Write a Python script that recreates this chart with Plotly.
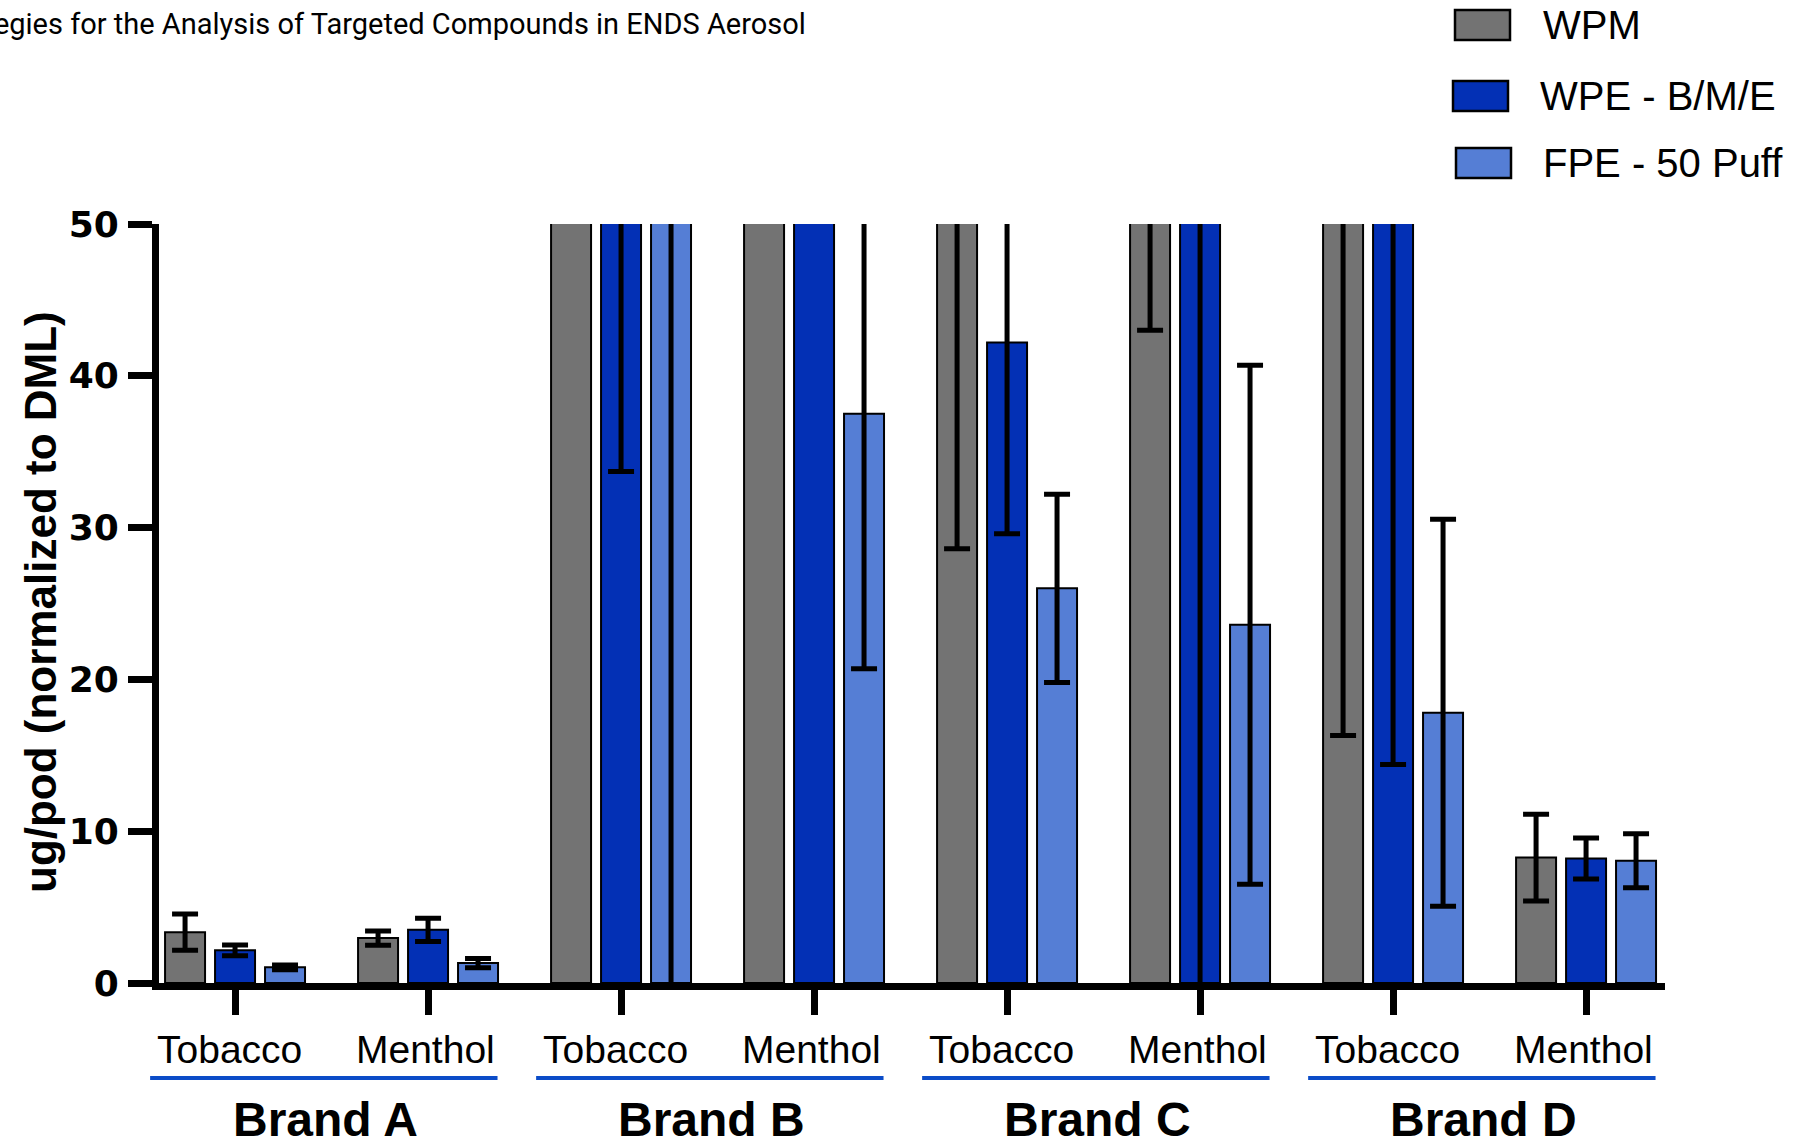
import plotly.graph_objects as go

# ---------------- data ----------------
flavors = ["Tobacco", "Menthol", "Tobacco", "Menthol", "Tobacco", "Menthol", "Tobacco", "Menthol"]
brands = ["Brand A", "Brand B", "Brand C", "Brand D"]
series_names = ["WPM", "WPE - B/M/E", "FPE - 50 Puff"]

wpm = [3.35, 2.96, 150, 130, 58, 62, 55, 8.26]
wpm_err = [1.2, 0.47, 40, 30, 29.4, 19, 38.7, 2.85]
wpe = [2.15, 3.5, 75, 120, 42.2, 70, 60, 8.2]
wpe_err = [0.35, 0.77, 41.3, 40, 12.6, 75, 45.6, 1.35]
fpe = [1.03, 1.31, 65, 37.5, 26.0, 23.6, 17.8, 8.05]
fpe_err = [0.15, 0.3, 70, 16.8, 6.2, 17.1, 12.75, 1.78]

y_ticks = [0, 10, 20, 30, 40, 50]
title_text = "Comparison of Collection Strategies for the Analysis of Targeted Compounds in ENDS Aerosol"
y_title = "ug/pod (normalized to DML)"

colors = ["#737373", "#0330B5", "#557ED5"]

# ---------------- layout geometry (pixels) ----------------
W, H = 1813, 1141
ML, MR, MT, MB = 159, 148, 224, 158
PW = W - ML - MR
PH = H - MT - MB
XMIN, XMAX = -0.394, 7.409


def px(x):
    return (x - ML) / PW


def py(y):
    return (H - MB - y) / PH


def cx(c):
    # category coordinate -> paper fraction (not clipped)
    return (c - XMIN) / (XMAX - XMIN)


xs = list(range(len(flavors)))

fig = go.Figure()
for name, vals, errs, col in zip(series_names, [wpm, wpe, fpe], [wpm_err, wpe_err, fpe_err], colors):
    fig.add_trace(go.Bar(
        x=xs, y=vals, name=name,
        marker=dict(color=col, line=dict(color="black", width=2)),
        error_y=dict(type="data", array=errs, visible=True, color="black", thickness=5, width=13),
        showlegend=False,
    ))

annotations = []
shapes = []

# flavor labels
for i, f in enumerate(flavors):
    off = -0.03 if i % 2 == 0 else -0.012
    annotations.append(dict(x=i + off, y=py(1049), xref="x", yref="paper", text=f, showarrow=False,
                            font=dict(family="Liberation Sans, Arial", size=39, color="black"),
                            xanchor="center", yanchor="middle"))

# brand labels and underline
for b, name in enumerate(brands):
    i0, i1 = 2 * b, 2 * b + 1
    annotations.append(dict(x=(i0 + i1) / 2 - 0.033, y=py(1119), xref="x", yref="paper",
                            text="<b>%s</b>" % name,
                            showarrow=False, font=dict(family="Liberation Sans, Arial", size=48, color="black"),
                            xanchor="center", yanchor="middle"))
    shapes.append(dict(type="line", xref="paper", yref="paper", x0=cx(i0 - 0.44), x1=cx(i1 + 0.36),
                       y0=py(1078), y1=py(1078), line=dict(color="#0B4CC8", width=4)))

# custom legend
leg_rows = [(1455, 1510, 10, 40, 1541, 25), (1453, 1508, 81, 111, 1538, 96), (1456, 1511, 148, 178, 1541, 163)]
for (x0, x1, y0, y1, tx, ty), name, col in zip(leg_rows, series_names, colors):
    shapes.append(dict(type="rect", xref="paper", yref="paper", x0=px(x0), x1=px(x1), y0=py(y1), y1=py(y0),
                       fillcolor=col, line=dict(color="black", width=2.5)))
    annotations.append(dict(x=px(tx), y=py(ty), xref="paper", yref="paper", text=name, showarrow=False,
                            font=dict(family="Liberation Sans, Arial", size=40, color="black"),
                            xanchor="left", yanchor="middle"))

# cut-off title
annotations.append(dict(x=px(808), y=py(24), xref="paper", yref="paper", text=title_text, showarrow=False,
                        font=dict(family="Roboto, Liberation Sans", size=29, color="black"),
                        xanchor="right", yanchor="middle"))

# y axis title
annotations.append(dict(x=px(40), y=py(602), xref="paper", yref="paper", text="<b>%s</b>" % y_title,
                        showarrow=False, textangle=-90,
                        font=dict(family="Liberation Sans, Arial", size=44, color="black"),
                        xanchor="center", yanchor="middle"))

fig.update_layout(
    width=W, height=H,
    margin=dict(l=ML, r=MR, t=MT, b=MB, pad=0),
    paper_bgcolor="white", plot_bgcolor="white",
    barmode="group", bargap=0.223, bargroupgap=0.2,
    annotations=annotations, shapes=shapes,
    xaxis=dict(range=[XMIN, XMAX], tickvals=xs, showticklabels=False, ticks="outside", ticklen=25,
               tickwidth=7, tickcolor="black", showline=True, linecolor="black", linewidth=7,
               showgrid=False, zeroline=False),
    yaxis=dict(range=[0, 50], tickvals=y_ticks, ticks="outside", ticklen=24, tickwidth=7, tickcolor="black",
               showline=True, linecolor="black", linewidth=7, showgrid=False, zeroline=False,
               tickfont=dict(family="DejaVu Sans, Liberation Sans", size=36, color="black", weight="bold"),
               ticklabelstandoff=2),
)

fig.write_html("out.html")
